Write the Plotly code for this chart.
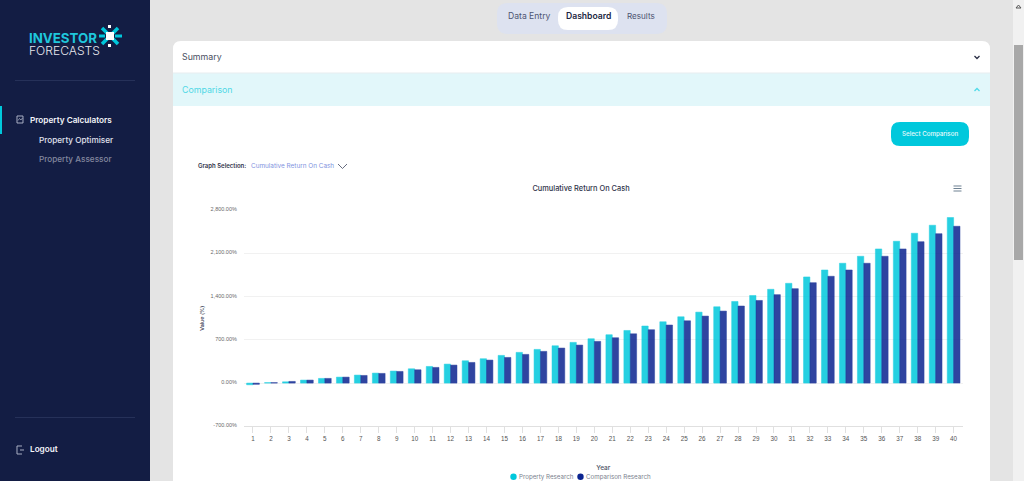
import plotly.graph_objects as go

W = 1024
H = 481

years = [str(i) for i in range(1, 41)]
property_research = [-27, 8, 21, 49, 76, 97, 130, 162, 195, 232,
                     270, 308, 362, 395, 449, 498, 546, 605, 660, 719,
                     784, 853, 925, 994, 1075, 1150, 1237, 1323, 1420, 1520,
                     1617, 1720, 1833, 1942, 2055, 2174, 2298, 2428, 2558, 2683]
comparison_research = [-20, 8, 27, 49, 76, 97, 124, 157, 189, 216,
                       254, 292, 335, 373, 416, 465, 514, 568, 616, 676,
                       735, 799, 865, 941, 1010, 1086, 1167, 1249, 1339, 1433,
                       1530, 1627, 1731, 1833, 1942, 2055, 2174, 2292, 2422, 2541]
y_ticks = [-700, 0, 700, 1400, 2100, 2800]
y_tick_labels = ["-700.00%", "0.00%", "700.00%", "1,400.00%", "2,100.00%", "2,800.00%"]

CYAN = "#00c8dc"
NAVY = "#0b2490"
SIDEBAR = "#131d44"
UI_FONT = "Inter"
CHART_FONT = "Liberation Sans"


def px(x):
    return x / W


def py(y):
    return 1 - y / H


def pt(x, y):
    return f"{px(x):.5f} {py(y):.5f}"


def rect(x0, y0, x1, y1, color, layer="below"):
    return dict(type="rect", xref="paper", yref="paper", layer=layer,
                x0=px(x0), x1=px(x1), y0=py(y0), y1=py(y1),
                fillcolor=color, line_width=0)


def circle(cx, cy, r, color):
    return dict(type="circle", xref="paper", yref="paper", layer="above",
                x0=px(cx - r), x1=px(cx + r), y0=py(cy + r), y1=py(cy - r),
                fillcolor=color, line_width=0)


def rounded(x0, y0, x1, y1, r, color):
    # radius is not equal in paper units on both axes, so convert each corner
    rx, ry = r / W, r / H
    a, b, c, d = px(x0), px(x1), py(y0), py(y1)
    path = (f"M {a + rx} {c} L {b - rx} {c} Q {b} {c} {b} {c - ry} "
            f"L {b} {d + ry} Q {b} {d} {b - rx} {d} L {a + rx} {d} "
            f"Q {a} {d} {a} {d + ry} L {a} {c - ry} Q {a} {c} {a + rx} {c} Z")
    return dict(type="path", xref="paper", yref="paper", layer="below", path=path,
                fillcolor=color, line=dict(width=0, color=color))


def stroke(points, color, width=1.0):
    path = "M " + " L ".join(pt(x, y) for x, y in points)
    return dict(type="path", xref="paper", yref="paper", layer="above", path=path,
                line=dict(color=color, width=width))


def label(x, y, text, size, color, anchor="left", weight=400, family=UI_FONT):
    return dict(xref="paper", yref="paper", x=px(x), y=py(y), text=text, showarrow=False,
                xanchor=anchor, yanchor="middle", borderpad=0, align=anchor if anchor != "center" else "center",
                font=dict(family=family, size=size, color=color, weight=weight))


shapes = [
    rect(0, 0, 150, H, SIDEBAR),
    rect(1013, 0, 1024, H, "#f1f1f1"),
    rect(1014, 45, 1023, 260, "#a8a8a8"),
    stroke([(1016, 8), (1018.5, 5), (1021, 8), (1016, 8)], "#555555", 1),
    rect(15, 80, 135, 80.7, "#2e3860"),
    rect(15, 417, 135, 417.7, "#2e3860"),
    rect(0, 106, 2, 134, CYAN),
    rounded(497, 3, 667, 34, 11, "#dde2f0"),
    rounded(558, 7, 618, 30, 10, "#ffffff"),
    rect(173, 49, 990, H + 5, "#ffffff"),
    rounded(173, 41, 990, 70, 8, "#ffffff"),
    rect(173, 73, 990, 106, "#e2f7fa"),
    rect(173, 72.6, 990, 73.4, "#e8eef0"),
    rounded(891, 122, 969, 146, 9, "#00c8dc"),
    # chevrons
    stroke([(974.5, 56), (977, 58.5), (979.5, 56)], "#2a2f45", 1.3),
    stroke([(974.5, 91), (977, 88.5), (979.5, 91)], "#4fdbe8", 1.3),
    stroke([(338, 164), (342.5, 168.5), (347, 164)], "#555b70", 0.9),
    # hamburger menu
    stroke([(953.5, 186), (961.5, 186)], "#6e8192", 1),
    stroke([(953.5, 188.5), (961.5, 188.5)], "#6e8192", 1),
    stroke([(953.5, 191), (961.5, 191)], "#6e8192", 1),
    # sidebar icons
    stroke([(17, 116), (23, 116), (23, 123), (17, 123), (17, 116)], "#b8bdd0", 0.9),
    stroke([(18, 120.5), (19.5, 118.5), (21, 120), (22.5, 118)], "#b8bdd0", 0.7),
    stroke([(22, 446), (17, 446), (17, 454), (22, 454)], "#b8bdd0", 0.9),
    stroke([(20, 450), (24, 450)], "#b8bdd0", 0.9),
    # logo mark
    stroke([(102, 28), (118, 44)], CYAN, 3.5),
    stroke([(118, 28), (102, 44)], CYAN, 3.5),
    stroke([(99, 36), (105, 36)], CYAN, 3),
    stroke([(115, 36), (122, 36)], CYAN, 3),
    rect(106, 32, 114, 40, "#ffffff", "above"),
    rect(108, 25, 111, 28, "#ffffff", "above"),
    rect(108, 44, 111, 47, "#ffffff", "above"),
    # legend keys
    circle(513.5, 476.8, 3.2, CYAN),
    circle(580.5, 476.8, 3.2, NAVY),
]

# both logo lines in one text, so they can sit as tight as they do in the logo
logo_text = ('<span style="font-size:13.3px;font-weight:700;color:#1fc7dc">INVESTOR</span><br>'
             '<span style="font-size:12.1px;font-weight:300;color:#e8e8ee">FORECASTS</span>')

annotations = [
    label(27.5, 44, logo_text, 9, "#e8e8ee"),
    label(28.5, 119.5, "Property Calculators", 8.2, "#f4f5fa", weight=600),
    label(37.5, 140, "Property Optimiser", 8.2, "#e0e2ee", weight=500),
    label(37.5, 159, "Property Assessor", 8.2, "#83889f", weight=500),
    label(28.5, 449, "Logout", 8.2, "#f4f5fa", weight=600),
    label(529, 16.5, "Data Entry", 8.6, "#4d5470", "center"),
    label(588, 16.5, "Dashboard", 8.6, "#20253f", "center", 600),
    label(641, 16.5, "Results", 8.1, "#4d5470", "center"),
    label(181, 57, "Summary", 8.8, "#4a4f63"),
    label(181, 89.5, "Comparison", 8.8, "#50d8e6"),
    label(930, 134, "Select Comparison", 6.2, "#e8fbfd", "center", 500),
    label(197, 166, "Graph Selection:", 6, "#30344a", weight=600),
    label(250, 166, "Cumulative Return On Cash", 6.4, "#7f93e0"),
    label(518, 477, "Property Research", 6.2, "#7a7f8e"),
    label(585, 477, "Comparison Research", 6.2, "#7a7f8e"),
]

fig = go.Figure()
fig.add_trace(go.Bar(x=years, y=property_research, name="Property Research",
                     marker=dict(color=CYAN, opacity=0.85, line=dict(color=CYAN, width=0.5))))
fig.add_trace(go.Bar(x=years, y=comparison_research, name="Comparison Research",
                     marker=dict(color=NAVY, opacity=0.85, line=dict(color=NAVY, width=0.5))))

fig.update_layout(
    width=W,
    height=H,
    margin=dict(l=0, r=0, t=0, b=0, autoexpand=False),
    autosize=False,
    showlegend=False,
    paper_bgcolor="#e4e4e4",
    plot_bgcolor="rgba(0,0,0,0)",
    barmode="group",
    bargap=0.29,
    bargroupgap=0,
    font=dict(family=CHART_FONT, size=6.5, color="#555555"),
    title=dict(text="Cumulative Return On Cash", x=px(581), y=py(188), xanchor="center", yanchor="middle",
               font=dict(family=UI_FONT, size=7.4, color="#30344a", weight=500)),
    shapes=shapes,
    annotations=annotations,
    xaxis=dict(domain=[px(244), px(962.6)], type="category", showgrid=False, showline=True,
               linecolor="#e0e0e0", linewidth=1, ticks="outside", ticklen=6, tickcolor="#e0e0e0",
               tickfont=dict(size=6.3, color="#555555"),
               title=dict(text="Year", standoff=24, font=dict(family=UI_FONT, size=6.5, color="#4a4f63", weight=500))),
    yaxis=dict(domain=[py(426.3), py(210.3)], range=[-700, 2800], tickvals=y_ticks, ticktext=y_tick_labels,
               showgrid=True, gridcolor="#f1f1f1", gridwidth=1, zeroline=False, showline=False,
               ticks="outside", ticklen=5, tickcolor="rgba(0,0,0,0)", ticklabelshift=-1,
               tickfont=dict(size=5.5, color="#6a6a6a"),
               title=dict(text="Value (%)", standoff=5, font=dict(family=UI_FONT, size=5.4, color="#30344a", weight=500))),
)

fig.write_html("out.html", config=dict(displayModeBar=False),
               post_script="document.body.style.margin='0';document.documentElement.style.overflow='hidden';")
